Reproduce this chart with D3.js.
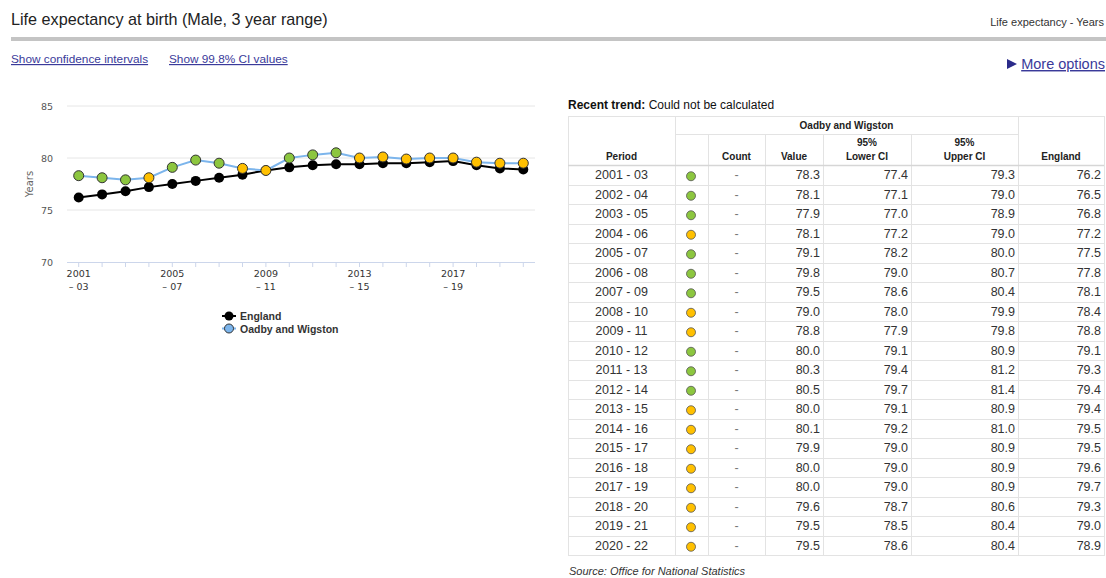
<!DOCTYPE html>
<html>
<head>
<meta charset="utf-8">
<script src="https://cdn.jsdelivr.net/npm/d3@7"></script>
<style>
  body { margin: 0; background: #fff; }
  svg { display: block; }
</style>
</head>
<body>
<div id="chart"></div>
<script>
// data
var periods = ["2001 - 03", "2002 - 04", "2003 - 05", "2004 - 06", "2005 - 07", "2006 - 08", "2007 - 09",
    "2008 - 10", "2009 - 11", "2010 - 12", "2011 - 13", "2012 - 14", "2013 - 15", "2014 - 16",
    "2015 - 17", "2016 - 18", "2017 - 19", "2018 - 20", "2019 - 21", "2020 - 22"];
var localValues = [78.3, 78.1, 77.9, 78.1, 79.1, 79.8, 79.5, 79.0, 78.8, 80.0, 80.3, 80.5, 80.0, 80.1, 79.9, 80.0, 80.0, 79.6, 79.5, 79.5];
var lowerCI = [77.4, 77.1, 77.0, 77.2, 78.2, 79.0, 78.6, 78.0, 77.9, 79.1, 79.4, 79.7, 79.1, 79.2, 79.0, 79.0, 79.0, 78.7, 78.5, 78.6];
var upperCI = [79.3, 79.0, 78.9, 79.0, 80.0, 80.7, 80.4, 79.9, 79.8, 80.9, 81.2, 81.4, 80.9, 81.0, 80.9, 80.9, 80.9, 80.6, 80.4, 80.4];
var englandValues = [76.2, 76.5, 76.8, 77.2, 77.5, 77.8, 78.1, 78.4, 78.8, 79.1, 79.3, 79.4, 79.4, 79.5, 79.5, 79.6, 79.7, 79.3, 79.0, 78.9];
// g = green, s = amber (similar to England)
var significance = ["g", "g", "g", "s", "g", "g", "g", "s", "s", "g", "g", "g", "s", "s", "s", "s", "s", "s", "s", "s"];
var yTicks = [70, 75, 80, 85];

var sigColor = { g: "#8cc63f", s: "#ffc000" };
var linkColor = "#3a3a9a";

var width = 1106, height = 578;
var svg = d3.select("#chart").append("svg")
    .attr("width", width).attr("height", height)
    .style("font-family", "'Liberation Sans', Arial, sans-serif");

// header
svg.append("text").attr("x", 11).attr("y", 25)
    .attr("font-size", 16.2).attr("fill", "#222")
    .text("Life expectancy at birth (Male, 3 year range)");
svg.append("text").attr("x", 1104).attr("y", 26).attr("text-anchor", "end")
    .attr("font-size", 11).attr("fill", "#333")
    .text("Life expectancy - Years");
svg.append("rect").attr("x", 11).attr("y", 37).attr("width", 1095).attr("height", 4).attr("fill", "#c4c4c4");

function link(x, y, txt, size, anchor) {
    return svg.append("text").attr("x", x).attr("y", y)
        .attr("font-size", size).attr("fill", linkColor)
        .attr("text-decoration", "underline")
        .attr("text-anchor", anchor || "start")
        .text(txt);
}
link(11, 63, "Show confidence intervals", 11.8);
link(169, 63, "Show 99.8% CI values", 11.8);
link(1105, 69, "More options", 14.5, "end");
svg.append("path").attr("d", "M1007,59 L1017,64 L1007,69 Z").attr("fill", "#2b2b8a");

// chart
var plot = { left: 67, right: 535, top: 106, bottom: 262 };
var x = d3.scaleBand().domain(periods).range([plot.left, plot.right]);
var y = d3.scaleLinear().domain([70, 85]).range([plot.bottom, plot.top]);
var cx = function(d, i) { return x(periods[i]) + x.bandwidth() / 2; };

var chart = svg.append("g").style("font-family", "'DejaVu Sans', Verdana, sans-serif");

chart.append("g").selectAll("line")
    .data(yTicks.filter(function(t) { return t > 70; }))
    .enter().append("line")
    .attr("x1", plot.left).attr("x2", plot.right)
    .attr("y1", function(d) { return y(d); }).attr("y2", function(d) { return y(d); })
    .attr("stroke", "#e6e6e6");

chart.append("g").selectAll("text")
    .data(yTicks).enter().append("text")
    .attr("x", 53).attr("y", function(d) { return y(d) + 3.5; })
    .attr("text-anchor", "end").attr("font-size", 9.5).attr("fill", "#555")
    .text(function(d) { return d; });

chart.append("text")
    .attr("transform", "translate(33," + ((plot.top + plot.bottom) / 2) + ") rotate(-90)")
    .attr("text-anchor", "middle").attr("font-size", 10).attr("fill", "#666")
    .text("Years");

// x axis
chart.append("line").attr("x1", plot.left).attr("x2", plot.right)
    .attr("y1", plot.bottom + 0.5).attr("y2", plot.bottom + 0.5)
    .attr("stroke", "#ccd6eb");
chart.append("g").selectAll("line")
    .data(periods).enter().append("line")
    .attr("x1", cx).attr("x2", cx)
    .attr("y1", plot.bottom).attr("y2", plot.bottom + 5)
    .attr("stroke", "#ccd6eb");
var xl = chart.append("g").selectAll("text")
    .data(periods.filter(function(p, i) { return i % 4 === 0; }))
    .enter().append("text")
    .attr("text-anchor", "middle").attr("font-size", 9.5).attr("fill", "#333");
xl.append("tspan")
    .attr("x", function(d) { return x(d) + x.bandwidth() / 2; }).attr("y", 277)
    .text(function(d) { return d.split(" - ")[0]; });
xl.append("tspan")
    .attr("x", function(d) { return x(d) + x.bandwidth() / 2; }).attr("y", 290)
    .text(function(d) { return "\u2013 " + d.split(" - ")[1]; });

var line = d3.line().x(cx).y(function(d) { return y(d); });

chart.append("path").datum(englandValues)
    .attr("d", line).attr("fill", "none").attr("stroke", "#000").attr("stroke-width", 2);
chart.append("path").datum(localValues)
    .attr("d", line).attr("fill", "none").attr("stroke", "#7cb5ec").attr("stroke-width", 2);

chart.append("g").selectAll("circle")
    .data(englandValues).enter().append("circle")
    .attr("cx", cx).attr("cy", function(d) { return y(d); })
    .attr("r", 5).attr("fill", "#000");
chart.append("g").selectAll("circle")
    .data(localValues).enter().append("circle")
    .attr("cx", cx).attr("cy", function(d) { return y(d); })
    .attr("r", 5).attr("fill", function(d, i) { return sigColor[significance[i]]; })
    .attr("stroke", "#333").attr("stroke-width", 1);

// legend
var legend = svg.append("g").attr("transform", "translate(222,316)");
var legendItems = [
    { name: "England", stroke: "#000", fill: "#000" },
    { name: "Oadby and Wigston", stroke: "#7cb5ec", fill: "#7cb5ec" }
];
var li = legend.selectAll("g").data(legendItems).enter().append("g")
    .attr("transform", function(d, i) { return "translate(0," + (i * 12.5) + ")"; });
li.append("line").attr("x1", 0).attr("x2", 14).attr("y1", 0).attr("y2", 0)
    .attr("stroke", function(d) { return d.stroke; }).attr("stroke-width", 2);
li.append("circle").attr("cx", 7).attr("cy", 0).attr("r", 4.5)
    .attr("fill", function(d) { return d.fill; })
    .attr("stroke", "#333").attr("stroke-width", function(d, i) { return i ? 1 : 0; });
li.append("text").attr("x", 18).attr("y", 4)
    .attr("font-size", 10.5).attr("font-weight", "bold").attr("fill", "#333")
    .text(function(d) { return d.name; });

// table
var cols = [568, 675, 708, 765, 823, 911, 1018, 1104];
var tTop = 116, h1 = 134, h2 = 165, rowH = 19.5;
var tBottom = h2 + rowH * periods.length;
var tbl = svg.append("g").attr("fill", "#333");

svg.append("text").attr("x", 568).attr("y", 109).attr("font-size", 12).attr("fill", "#111")
    .html("<tspan font-weight='bold'>Recent trend:</tspan> Could not be calculated");

var grid = tbl.append("g").attr("stroke", "#e3e3e3").attr("stroke-width", 1);
grid.append("rect").attr("x", cols[0] + 0.5).attr("y", tTop + 0.5)
    .attr("width", cols[7] - cols[0]).attr("height", tBottom - tTop).attr("fill", "none");
grid.append("line").attr("x1", cols[1]).attr("x2", cols[6]).attr("y1", h1 + 0.5).attr("y2", h1 + 0.5);
cols.slice(1, 7).forEach(function(c, i) {
    var top = (i === 0 || i === 5) ? tTop : h1;
    grid.append("line").attr("x1", c + 0.5).attr("x2", c + 0.5).attr("y1", top).attr("y2", tBottom);
});
grid.selectAll(".row").data(periods).enter().append("line")
    .attr("x1", cols[0]).attr("x2", cols[7])
    .attr("y1", function(d, i) { return Math.round(h2 + i * rowH) + 0.5; })
    .attr("y2", function(d, i) { return Math.round(h2 + i * rowH) + 0.5; })
    .attr("stroke", function(d, i) { return i === 0 ? "#d6d6d6" : "#e3e3e3"; })
    .attr("stroke-width", function(d, i) { return i === 0 ? 1.5 : 1; });

var hdr = tbl.append("g").attr("font-size", 10).attr("font-weight", "bold").attr("text-anchor", "middle").attr("fill", "#222");
hdr.append("text").attr("x", (cols[1] + cols[6]) / 2).attr("y", 129).text("Oadby and Wigston");
var headers = [
    { c: 0, lines: ["Period"] }, { c: 2, lines: ["Count"] }, { c: 3, lines: ["Value"] },
    { c: 4, lines: ["95%", "Lower CI"] }, { c: 5, lines: ["95%", "Upper CI"] }, { c: 6, lines: ["England"] }
];
headers.forEach(function(hd) {
    var xm = (cols[hd.c] + cols[hd.c + 1]) / 2;
    hd.lines.forEach(function(t, j) {
        hdr.append("text").attr("x", xm)
            .attr("y", 160 - (hd.lines.length - 1 - j) * 14)
            .text(t);
    });
});

var rows = tbl.selectAll(".r").data(periods).enter().append("g")
    .attr("transform", function(d, i) { return "translate(0," + (h2 + i * rowH + rowH / 2) + ")"; })
    .attr("font-size", 12.5).attr("fill", "#333");
rows.append("text").attr("x", (cols[0] + cols[1]) / 2).attr("y", 4.5).attr("text-anchor", "middle")
    .text(function(d) { return d; });
rows.append("circle").attr("cx", 691).attr("cy", 1.5).attr("r", 4.5)
    .attr("fill", function(d, i) { return sigColor[significance[i]]; })
    .attr("stroke", "#555").attr("stroke-width", 0.8);
rows.append("text").attr("x", (cols[2] + cols[3]) / 2).attr("y", 4.5).attr("text-anchor", "middle")
    .attr("fill", "#777").text("-");
var numCols = [
    { c: 4, v: localValues }, { c: 5, v: lowerCI }, { c: 6, v: upperCI }, { c: 7, v: englandValues }
];
numCols.forEach(function(nc) {
    rows.append("text").attr("x", cols[nc.c] - 3).attr("y", 4.5).attr("text-anchor", "end")
        .text(function(d, i) { return nc.v[i].toFixed(1); });
});

svg.append("text").attr("x", 569).attr("y", 575).attr("font-size", 11)
    .attr("font-style", "italic").attr("fill", "#333")
    .text("Source: Office for National Statistics");
</script>
</body>
</html>
